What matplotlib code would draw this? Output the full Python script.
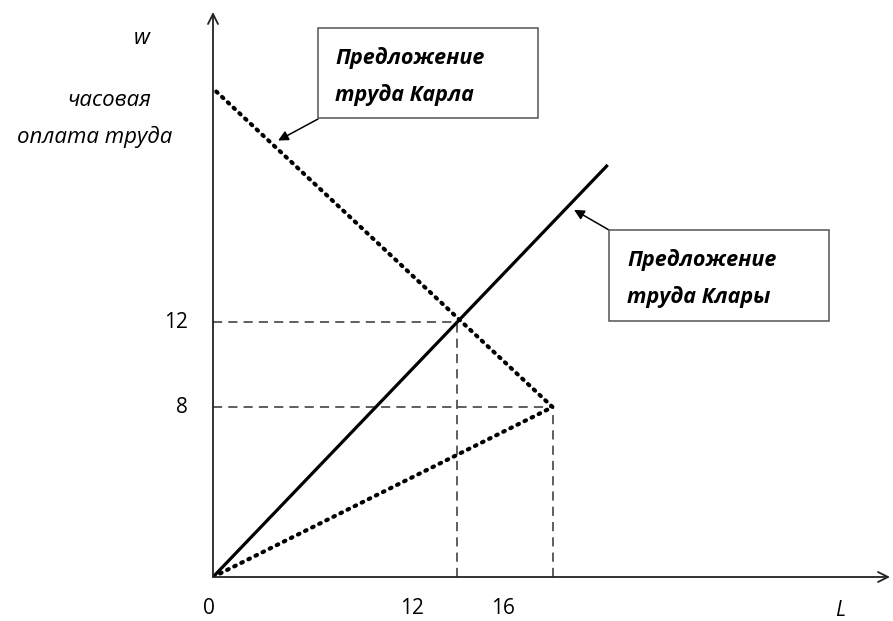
import numpy as np
import matplotlib
matplotlib.use('Agg')
import matplotlib.pyplot as plt
from matplotlib.patches import Rectangle

plt.rcParams['font.family'] = ['Open Sans', 'DejaVu Sans']

# Clara: ordinary upward-sloping supply
clara_L = [0, 18.6]
clara_w = [0, 19.4]
# Karl: backward-bending supply (origin -> kink -> top of w axis)
karl_L = [0, 16, 0]
karl_w = [0, 8, 23]
# equilibrium / reference points
cross_L, cross_w = 11.5, 12
kink_L, kink_w = 16, 8
x_ticklabels = ['0', '12', '16']
y_ticklabels = ['12', '8']

W, H = 893, 621
fig = plt.figure(figsize=(W / 100, H / 100), dpi=100)
ax = fig.add_axes([213 / W, 1 - 577 / H, (890 - 213) / W, (577 - 12) / H])
ax.set_xlim(0, 31.9)
ax.set_ylim(0, 26.6)
ax.axis('off')


def fx(px):
    return px / W


def fy(py):
    return 1 - py / H


# axes with arrows
axis_kw = dict(arrowstyle='->', color='#222222', lw=1.3, shrinkA=0, shrinkB=0, mutation_scale=18)
ax.annotate('', xy=(31.9, 0), xytext=(0, 0), arrowprops=axis_kw, annotation_clip=False)
ax.annotate('', xy=(0, 26.6), xytext=(0, 0), arrowprops=axis_kw, annotation_clip=False)

# guide lines
dash = dict(color='#333333', lw=1.1, ls=(0, (6, 4)))
ax.plot([0, cross_L], [cross_w, cross_w], **dash)
ax.plot([cross_L, cross_L], [0, cross_w], **dash)
ax.plot([0, kink_L], [kink_w, kink_w], **dash)
ax.plot([kink_L, kink_L], [0, kink_w], **dash)

# supply curves
ax.plot(clara_L, clara_w, color='black', lw=2.3, solid_capstyle='butt')
ax.plot(karl_L, karl_w, color='black', lw=3.0, ls=(0, (0.4, 1.5)), dash_capstyle='round')

# tick labels
tick_font = dict(fontsize=15, color='black')
ax.annotate(x_ticklabels[0], xy=(0, 0), xytext=(-4, -31), textcoords='offset pixels',
            ha='center', va='center', **tick_font)
ax.annotate(x_ticklabels[1], xy=(cross_L, 0), xytext=(-45, -31), textcoords='offset pixels',
            ha='center', va='center', **tick_font)
ax.annotate(x_ticklabels[2], xy=(kink_L, 0), xytext=(-50, -31), textcoords='offset pixels',
            ha='center', va='center', **tick_font)
ax.annotate(y_ticklabels[0], xy=(0, cross_w), xytext=(-25, 0), textcoords='offset pixels',
            ha='right', va='center', **tick_font)
ax.annotate(y_ticklabels[1], xy=(0, kink_w), xytext=(-25, 0), textcoords='offset pixels',
            ha='right', va='center', **tick_font)

# axis titles
fig.text(fx(840), fy(610), 'L', fontsize=15, style='italic', ha='center', va='center')
fig.text(fx(142), fy(38), 'w', fontsize=16, style='italic', ha='center', va='center')
fig.text(fx(109), fy(100), 'часовая', fontsize=16, style='italic', ha='center', va='center')
fig.text(fx(95), fy(137), 'оплата труда', fontsize=16, style='italic', ha='center', va='center')

# callout boxes
box_kw = dict(transform=fig.transFigure, fill=False, edgecolor='#555555', lw=1.1)
fig.patches.append(Rectangle((fx(318), fy(118)), 220 / W, 90 / H, **box_kw))
fig.patches.append(Rectangle((fx(609), fy(321)), 220 / W, 91 / H, **box_kw))

lab_kw = dict(fontsize=15.5, fontweight='bold', style='italic', ha='left', va='center')
fig.text(fx(335), fy(58), 'Предложение', **lab_kw)
fig.text(fx(335), fy(95), 'труда Карла', **lab_kw)
fig.text(fx(627), fy(260), 'Предложение', **lab_kw)
fig.text(fx(627), fy(297), 'труда Клары', **lab_kw)

# callout arrows, pointing at the curves
arr_kw = dict(arrowstyle='-|>', color='black', lw=1.1, shrinkA=0, shrinkB=5, mutation_scale=15)
karl_top_L = [karl_L[2], karl_L[1]]
karl_top_w = [karl_w[2], karl_w[1]]
karl_pt_L = 2.78
ax.annotate('', xy=(karl_pt_L, np.interp(karl_pt_L, karl_top_L, karl_top_w)),
            xytext=(fx(318), fy(119)), textcoords='figure fraction', arrowprops=arr_kw)
clara_pt_L = 16.73
ax.annotate('', xy=(clara_pt_L, np.interp(clara_pt_L, clara_L, clara_w)),
            xytext=(fx(609), fy(230)), textcoords='figure fraction', arrowprops=arr_kw)

fig.savefig('out.png', dpi=100)
